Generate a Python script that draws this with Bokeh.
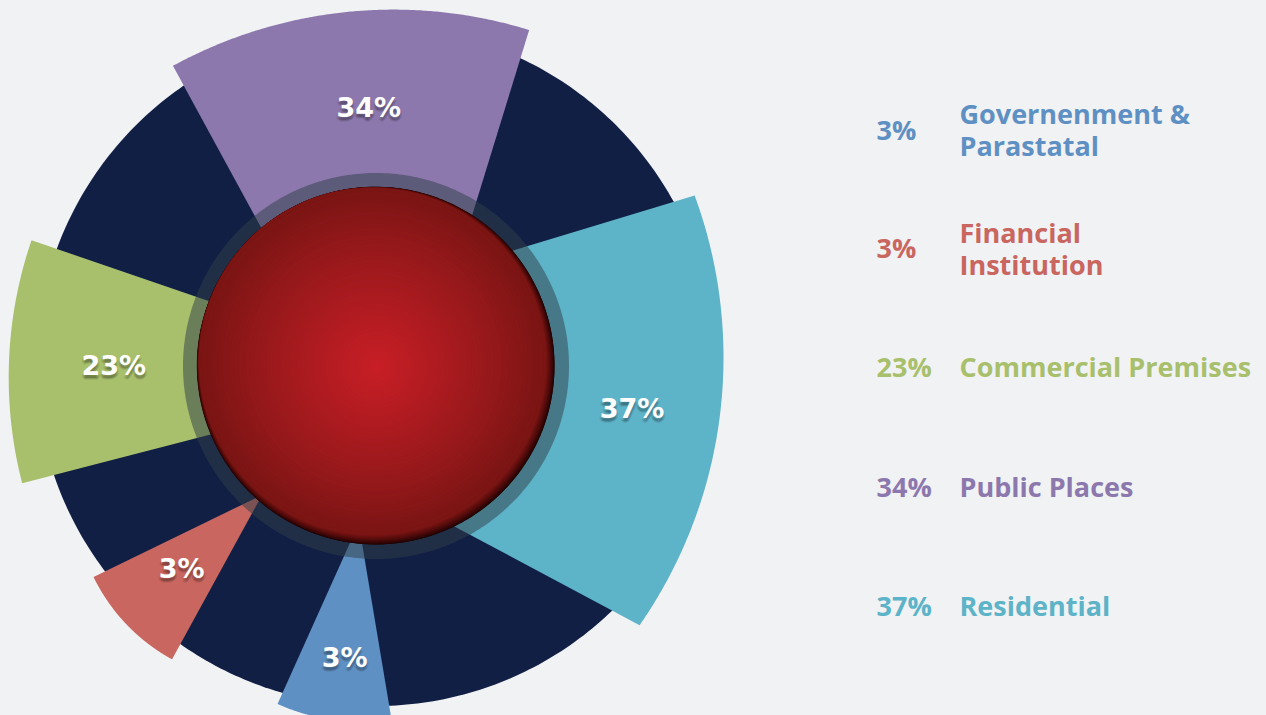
import numpy as np
from bokeh.plotting import figure
from bokeh.models import Range1d, ColumnDataSource
from bokeh.core.properties import value
from bokeh.embed import file_html
from bokeh.resources import INLINE

# ---------------- data ----------------
categories = ["Governenment & Parastatal", "Financial Institution",
              "Commercial Premises", "Public Places", "Residential"]
legend_lines = [["Governenment &", "Parastatal"], ["Financial", "Institution"],
                ["Commercial Premises"], ["Public Places"], ["Residential"]]
shares = [3, 3, 23, 34, 37]
colors = ["#5f90c3", "#c9665f", "#a8bf6c", "#8c78ad", "#5db3c8"]

# ---------------- layout (pixel space) ----------------
W, H = 1266, 715
CX, CY = 375.5, 365.5          # hub centre
NAVY_R, RING_R, SPHERE_R = 340, 193, 178.5
BG = "#f1f2f4"
NAVY = "#111f45"

# per-segment geometry: arc centre, radius, start/end angle, inner points
seg_geom = [
    dict(c=(358.2, 522.9), r=198, a=(245.8, 279.5), inner=None),
    dict(c=(261.6, 494.4), r=187.5, a=(206.0, 241.3), inner=None),
    dict(c=(431.2, 376.8), r=423, a=(161.1, 194.5), inner=None),
    dict(c=(393.1, 470.1), r=461, a=(72.9, 118.6), inner=None),
    dict(c=(254.0, 357.0), r=469, a=(-34.8, 20.2), inner=((420, 507.9), (420, 277.8))),
]
label_pos = [(344.2, 656.5), (181.2, 567.8), (113.3, 365.3), (368.3, 107.2), (631.5, 407.8)]
legend_pct_x, legend_lbl_x = 876, 959
legend_centres = [[112.7, 145.0], [232.2, 263.7], [365.9], [486.2], [604.7]]
legend_pct_centre = [128.8, 247.0, 365.9, 486.2, 604.7]


def arc_pts(cx, cy, r, a1, a2, n=180):
    t = np.radians(np.linspace(a1, a2, n))
    return list(cx + r * np.cos(t)), list(cy - r * np.sin(t))


p = figure(width=W, height=H, x_range=Range1d(0, W), y_range=Range1d(H, 0),
           output_backend="svg", toolbar_location=None, min_border=0,
           background_fill_color=BG, border_fill_color=BG, outline_line_color=None)
p.axis.visible = False
p.grid.visible = False

# navy disc
xs, ys = arc_pts(CX, CY, NAVY_R, 0, 360, 400)
p.patch(xs, ys, fill_color=NAVY, line_color=None)

# coloured segments
seg_xs, seg_ys = [], []
for g in seg_geom:
    ax, ay = arc_pts(g["c"][0], g["c"][1], g["r"], g["a"][0], g["a"][1])
    if g["inner"] is None:
        sx = [g["c"][0]] + ax + [g["c"][0]]
        sy = [g["c"][1]] + ay + [g["c"][1]]
    else:
        (x1, y1), (x2, y2) = g["inner"]
        sx = [x1] + ax + [x2]
        sy = [y1] + ay + [y2]
    seg_xs.append(sx)
    seg_ys.append(sy)
p.patches(xs="xs", ys="ys", fill_color="color", line_color=None,
          source=ColumnDataSource(dict(xs=seg_xs, ys=seg_ys, color=colors)))

# translucent ring
xs, ys = arc_pts(CX, CY, RING_R, 0, 360, 400)
p.patch(xs, ys, fill_color="#323e48", fill_alpha=0.51, line_color=None)

# sphere: dark base + rim shading + radial gradient
u = np.array([0.6, 0.8])  # towards bottom-right (screen)
rim_steps = 10
for j in range(rim_steps + 1):
    s = 5.5 * j / rim_steps
    t = j / rim_steps
    col = (int(22 + (122 - 22) * t ** 0.8), int(2 + 19 * t), int(2 + 18 * t))
    cx, cy = CX - s * u[0], CY - s * u[1]
    rr = SPHERE_R - s + (0.9 if j > 0 else 0.0)
    xs, ys = arc_pts(cx, cy, rr, 0, 360, 360)
    p.patch(xs, ys, fill_color="#%02x%02x%02x" % col, line_color=None)

N = 45
c_start = np.array([CX - 5.5 * u[0], CY - 5.5 * u[1]])
c_end = np.array([376.5, 366.5])
edge_c = np.array([122, 21, 20])
mid_c = np.array([201, 31, 39])
for k in range(1, N):
    f = k / N
    r = (SPHERE_R - 4.6) * (1 - f)
    cc = c_start + (c_end - c_start) * f
    col = edge_c + (mid_c - edge_c) * (f ** 0.9)
    xs, ys = arc_pts(cc[0], cc[1], r, 0, 360, 240)
    p.patch(xs, ys, fill_color="#%02x%02x%02x" % tuple(int(v) for v in col), line_color=None)

# segment labels (with soft shadow)
lbl_text = [f"{v}%" for v in shares]
lx = [q[0] for q in label_pos]
ly = [q[1] for q in label_pos]
for dx, dy in [(0, 3), (1, 4), (-1, 4), (0, 5), (2, 3), (-2, 3)]:
    p.text(x=[x + dx for x in lx], y=[y + dy for y in ly], text=lbl_text,
           text_font=value("DejaVu Sans"), text_font_style="bold", text_font_size="27px",
           text_align="center", text_baseline="middle", text_color="#000000", text_alpha=0.08)
p.text(x=lx, y=ly, text=lbl_text, text_font=value("DejaVu Sans"), text_font_style="bold",
       text_font_size="27px", text_align="center", text_baseline="middle", text_color="#ffffff")

# legend
for i, cat in enumerate(categories):
    p.text(x=[legend_pct_x], y=[legend_pct_centre[i]], text=[f"{shares[i]}%"],
           text_font=value("Open Sans"), text_font_style="bold", text_font_size="27px",
           text_align="left", text_baseline="middle", text_color=colors[i])
    lines = legend_lines[i]
    p.text(x=[legend_lbl_x] * len(lines), y=legend_centres[i], text=lines,
           text_font=value("Open Sans"), text_font_style="bold", text_font_size="27px",
           text_align="left", text_baseline="middle", text_color=colors[i])

template = """
{% block postamble %}
<style>
html, body { margin: 0 !important; padding: 0 !important; background: #f1f2f4; overflow: hidden; }
</style>
{% endblock %}
"""

open("out.html", "w").write(file_html(p, INLINE, title="Chart", template=template))
